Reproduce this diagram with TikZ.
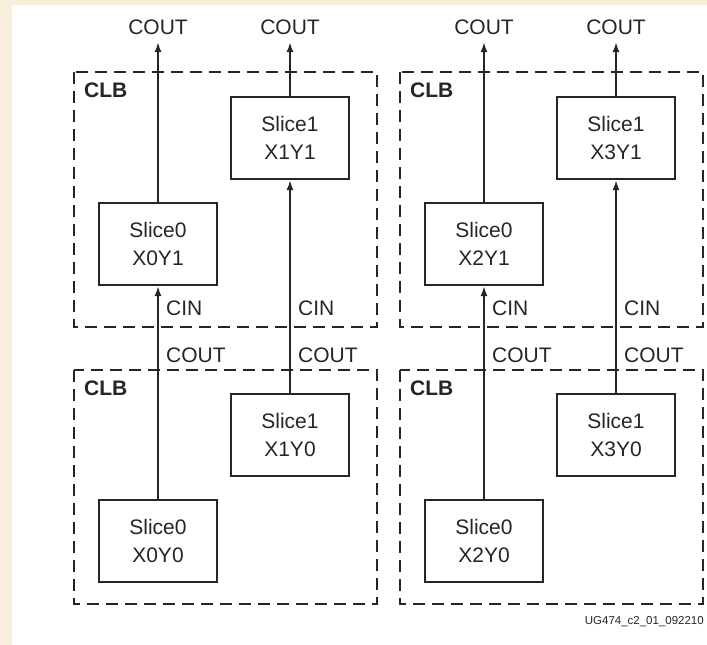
\documentclass[tikz,border=0pt]{standalone}
\usepackage{fontspec}
\setmainfont{Liberation Sans}
\usetikzlibrary{arrows.meta}
\definecolor{beige}{HTML}{F7EEDC}
\definecolor{ink}{HTML}{262626}
\begin{document}
\begin{tikzpicture}[x=1pt,y=-1pt,
  slicebox/.style={draw=ink,line width=2pt,minimum width=118pt,minimum height=82pt,inner sep=0pt,align=center,font=\fontsize{21}{28}\selectfont,text=ink},
  clbbox/.style={draw=ink,line width=2pt,dash pattern=on 12pt off 7pt},
  lbl/.style={font=\fontsize{21}{25}\selectfont,text=ink,inner sep=0pt},
  clblbl/.style={font=\fontsize{21}{25}\selectfont\bfseries,text=ink,inner sep=0pt,anchor=west},
  wire/.style={draw=ink,line width=2pt},
  arr/.style={wire,-{Latex[length=10pt,width=7pt]}}]
\fill[beige] (0,0) rectangle (707,645);
\fill[white] (12,5) rectangle (707,645);
\useasboundingbox (0,0) rectangle (707,645);
\foreach \dx/\a/\b in {0/0/1,326/2/3}{
  \begin{scope}[xshift=\dx pt]
  % CLB boxes
  \draw[clbbox] (74,72) rectangle (377,327);
  \draw[clbbox] (74,370) rectangle (377,604);
  \node[clblbl] (clbt\a) at (84,90) {CLB};
  \node[clblbl] (clbb\a) at (84,388) {CLB};
  % slices
  \node[slicebox] (s\a y1) at (158,244) {Slice0\\X\a Y1};
  \node[slicebox] (s\b y1) at (290,138) {Slice1\\X\b Y1};
  \node[slicebox] (s\a y0) at (158,541) {Slice0\\X\a Y0};
  \node[slicebox] (s\b y0) at (290,435) {Slice1\\X\b Y0};
  % top labels
  \node[lbl] (co\a) at (158,27) {COUT};
  \node[lbl] (co\b) at (290,27) {COUT};
  \coordinate (t\a) at (158,42);
  \coordinate (t\b) at (290,42);
  \draw[arr] (s\a y1.north) -- (t\a);
  \draw[arr] (s\b y1.north) -- (t\b);
  \draw[arr] (s\a y0.north) -- (s\a y1.south);
  \draw[arr] (s\b y0.north) -- (s\b y1.south);
  % mid labels
  \node[lbl,anchor=west] (ci\a) at (166,308) {CIN};
  \node[lbl,anchor=west] (ci\b) at (298,308) {CIN};
  \node[lbl,anchor=west] (cm\a) at (166,355) {COUT};
  \node[lbl,anchor=west] (cm\b) at (298,355) {COUT};
  \end{scope}
}
\node[anchor=east,inner sep=0pt,font=\fontsize{11.5}{13}\selectfont,text=ink] (fn) at (704,622) {UG474\_c2\_01\_092210};
\end{tikzpicture}
\end{document}
